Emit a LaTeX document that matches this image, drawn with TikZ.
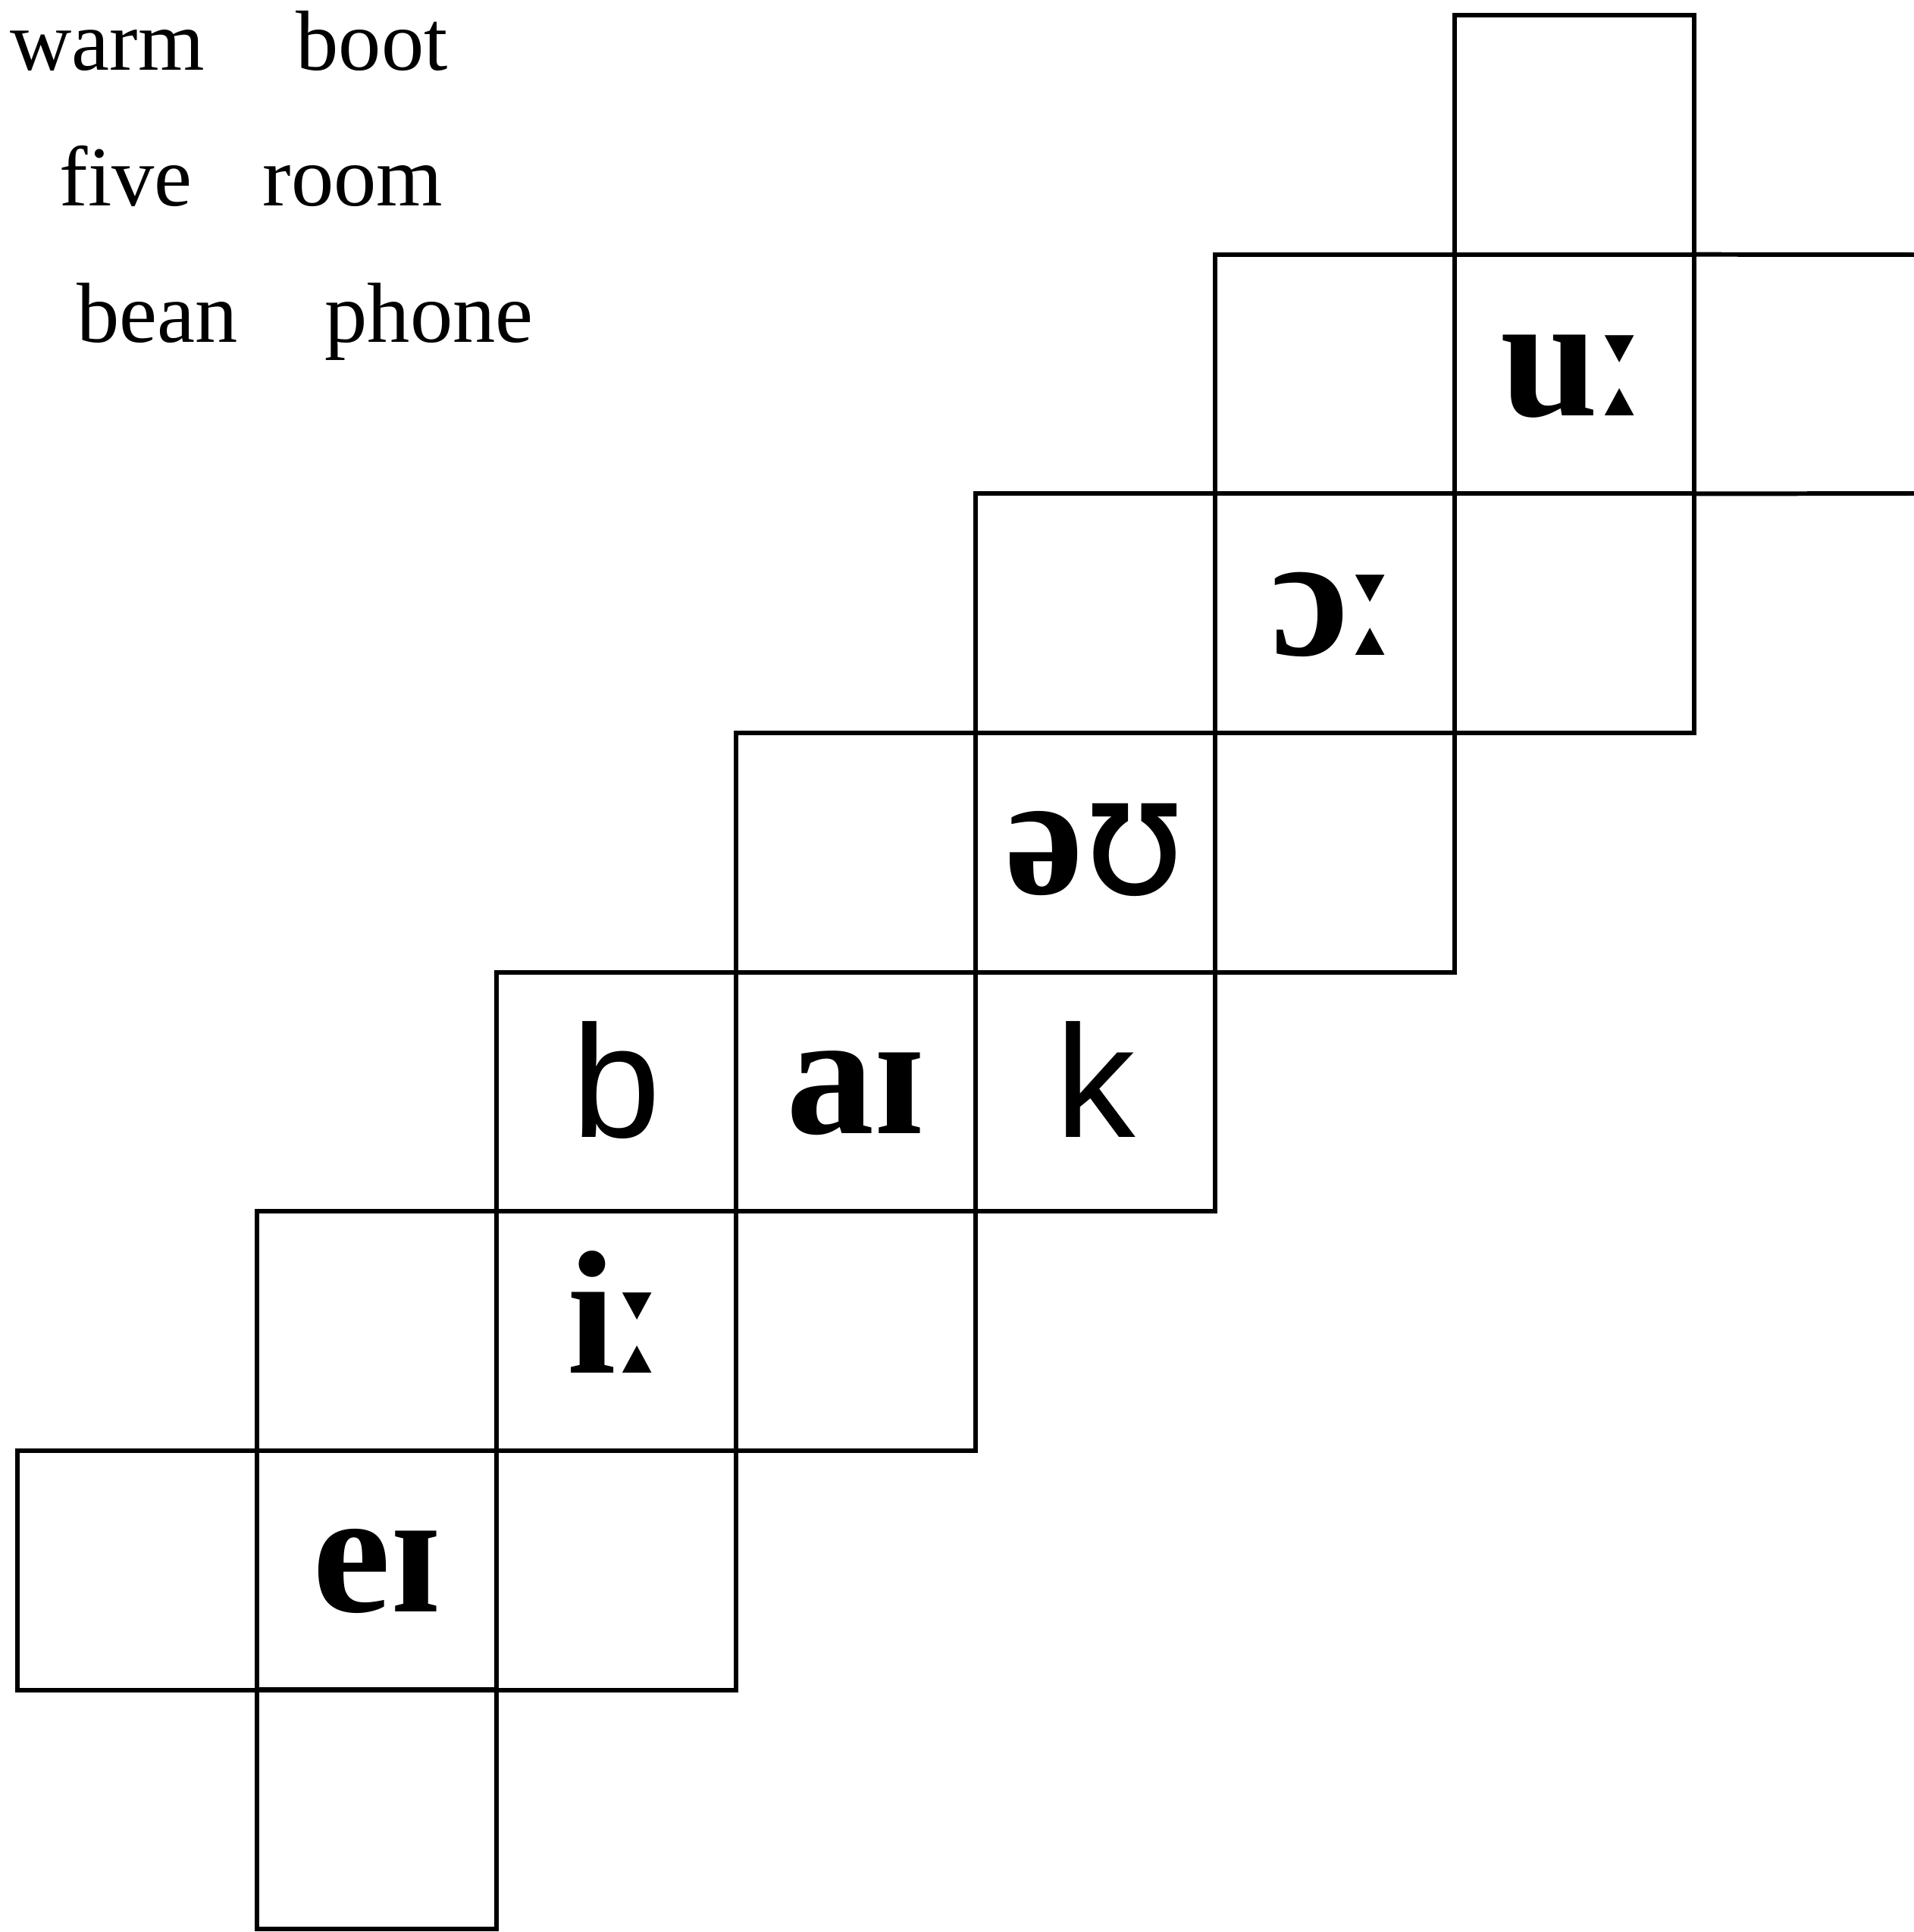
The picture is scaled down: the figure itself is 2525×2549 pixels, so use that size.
\documentclass[tikz,border=0pt]{standalone}
\usepackage{fontspec}
\setmainfont{Liberation Serif}
\newfontfamily\ipafont{Liberation Serif}
\newfontfamily\ipaxfont{DejaVu Sans}
\newfontfamily\handfont{Liberation Sans}
\newcommand{\lng}{{\ipaxfont\bfseries\fontsize{55}{60}\selectfont ː}}
\newcommand{\ups}{{\ipaxfont\mdseries\fontsize{62}{66}\selectfont ʊ}}
\begin{document}
\begin{tikzpicture}[x=0.01cm,y=-0.01cm,
  cell/.style={draw, line width=1.7pt, minimum width=3.16cm, minimum height=3.156cm, inner sep=0pt, outer sep=0pt},
  gridline/.style={line width=1.7pt},
  word/.style={anchor=base west, inner sep=0pt, font=\fontsize{32}{36}\selectfont},
  ipa/.style={anchor=base, inner sep=0pt, font=\ipafont\bfseries\fontsize{66}{70}\selectfont},
  hand/.style={anchor=base, inner sep=0pt, font=\handfont\fontsize{60}{64}\selectfont}]
\useasboundingbox (0,0) rectangle (2525,2549);
% words
\node[word] (w1) at (13,93) {warm};
\node[word] (w2) at (390,93) {boot};
\node[word] (w3) at (78,272) {five};
\node[word] (w4) at (346,272) {room};
\node[word] (w5) at (101,452) {bean};
\node[word] (w6) at (428,452) {phone};
% cells
\foreach \r/\c in {0/6, 1/5, 1/6, 2/4, 2/5, 2/6, 3/3, 3/4, 3/5, 4/2, 4/3, 4/4, 5/1, 5/2, 5/3, 6/0, 6/1, 6/2, 7/1}
  \node[cell] (c\r-\c) at ({181+316*\c},{178+315.6*\r}) {};
% cut-off cell at the right edge
\coordinate (edgeT) at (2525,336);
\coordinate (edgeB) at (2525,651);
\draw[gridline] (c1-6.north east) -- (edgeT);
\draw[gridline] (c1-6.south east) -- (edgeB);
% labels
\node[ipa] (l-u) at ([yshift=-0.55cm]c1-6.center) {u\lng};
\node[ipa] (l-o) at ([yshift=-0.55cm]c2-5.center) {ɔ\lng};
\node[ipa] (l-ou) at ([yshift=-0.55cm]c3-4.center) {ə\ups};
\node[hand] (l-b) at ([yshift=-0.6cm]c4-2.center) {b};
\node[ipa] (l-ai) at ([yshift=-0.55cm]c4-3.center) {aɪ};
\node[hand] (l-k) at ([yshift=-0.6cm]c4-4.center) {k};
\node[ipa] (l-i) at ([yshift=-0.55cm]c5-2.center) {i\lng};
\node[ipa] (l-e) at ([yshift=-0.55cm]c6-1.center) {eɪ};
\end{tikzpicture}
\end{document}
